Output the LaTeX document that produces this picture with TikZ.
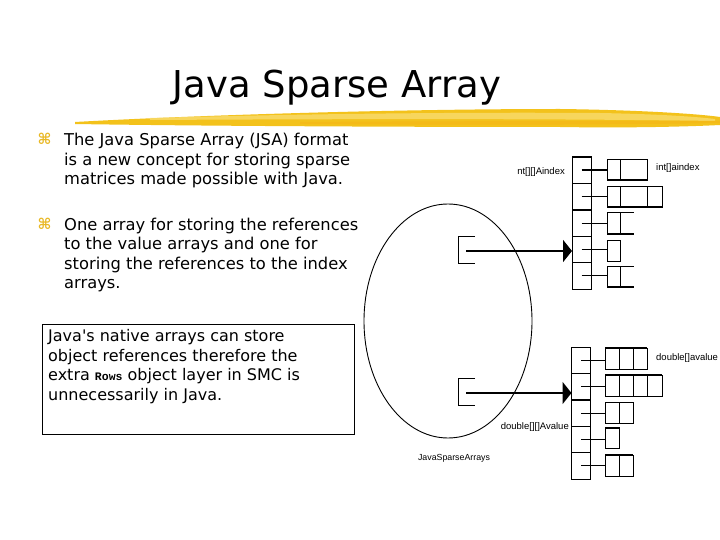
\documentclass[tikz,border=0pt]{standalone}
\usepackage{fontspec}
\setmainfont{DejaVu Sans}
\newfontfamily\aposfont{DejaVu Sans}
\newfontfamily\lblfont{Liberation Sans}
\newfontfamily\codefont{Liberation Mono}
\usetikzlibrary{arrows.meta,shapes.geometric,calc}
\definecolor{brush}{HTML}{F3C21B}
\definecolor{brushlight}{HTML}{F9DC6E}
\definecolor{bulletc}{HTML}{E9B824}
\begin{document}
\begin{tikzpicture}[x=1pt,y=-1pt,
  col/.style={draw, line width=1pt, minimum width=19pt, minimum height=26.4pt, inner sep=0pt, outer sep=0pt},
  acell/.style={draw, line width=1pt, minimum height=21pt, inner sep=0pt, outer sep=0pt},
  stub/.style={line width=0.9pt},
  thickl/.style={line width=2pt},
  body/.style={anchor=base west, inner sep=0pt, font=\fontsize{16.3}{19.5}\selectfont},
  bul/.style={text=bulletc, inner sep=0pt, font=\bfseries\fontsize{15}{15}\selectfont},
  lbl/.style={inner sep=0pt, font=\lblfont\fontsize{9.5}{10}\selectfont},
  bracket/.style={line width=0.9pt},
  ref/.style={line width=2.2pt, -{Triangle[length=9pt,width=22pt]}}
]
\useasboundingbox (0,0) rectangle (720,540);
\fill[white] (0,0) rectangle (720,540);

% title
\node[anchor=base, inner sep=0pt, font=\fontsize{37}{40}\selectfont] (title) at (337,98) {Java Sparse Array};

% brush stroke
\fill[brush] (75,122) .. controls (200,115) and (400,109) .. (560,109)
  .. controls (640,110) and (700,114) .. (720,117) -- (720,125)
  .. controls (680,127) and (620,128) .. (560,127)
  .. controls (400,127) and (200,126) .. (75,124) -- cycle;
\fill[brushlight, opacity=0.8] (150,118) .. controls (300,114) and (450,112) .. (600,113)
  .. controls (650,114) and (690,116) .. (715,119) -- (715,121)
  .. controls (650,120) and (500,118) .. (150,120) -- cycle;
\fill[brush!80!orange, opacity=0.6] (300,122) .. controls (450,121) and (600,121) .. (720,121) -- (720,123)
  .. controls (600,125) and (450,125) .. (300,124) -- cycle;

% bullets
\node[bul] (b1) at (44.5,138.5) {⌘};
\node[body] (l11) at (64,146) {The Java Sparse Array (JSA) format};
\node[body] (l12) at (64,165.5) {is a new concept for storing sparse};
\node[body] (l13) at (64,185) {matrices made possible with Java.};
\node[bul] (b2) at (44.5,224) {⌘};
\node[body] (l21) at (64,230) {One array for storing the references};
\node[body] (l22) at (64,249.5) {to the value arrays and one for};
\node[body] (l23) at (64,269) {storing the references to the index};
\node[body] (l24) at (64,288) {arrays.};

% note box
\node[draw, line width=0.9pt, minimum width=312pt, minimum height=110pt, inner sep=0pt] (note) at (198,379) {};
\node[body, font=\fontsize{16}{19.5}\selectfont] (n1) at (48,341.5) {Java{\aposfont'}s native arrays can store};
\node[body, font=\fontsize{16}{19.5}\selectfont] (n2) at (48,361) {object references therefore the};
\node[body, font=\fontsize{16}{19.5}\selectfont] (n3) at (48,380.5) {extra {\codefont\bfseries\fontsize{11.5}{12}\selectfont Rows} object layer in SMC is};
\node[body, font=\fontsize{16}{19.5}\selectfont] (n4) at (48,400) {unnecessarily in Java.};

% ellipse
\node[draw, ellipse, line width=0.9pt, minimum width=168pt, minimum height=234pt, inner sep=0pt] (jsa) at (448,321) {};
\node[lbl, font=\lblfont\fontsize{8.8}{10}\selectfont] (jsalbl) at (454,458) {JavaSparseArrays};

% ---------- index column ----------
\node[col] (ic1) at (581.5,170.2) {};
\node[col] (ic2) at (581.5,196.6) {};
\node[col] (ic3) at (581.5,223) {};
\node[col] (ic4) at (581.5,249.4) {};
\node[col] (ic5) at (581.5,275.8) {};
\draw[thickl] (ic1.north west) -- (ic1.north east);
\draw[thickl] (ic3.north west) -- (ic3.north east);
\node[lbl, anchor=east] (ialbl) at (565,172) {nt[][]Aindex};

% index rows
\node[acell, minimum width=13pt] (ia1a) at (613.5,170) {};
\node[acell, minimum width=27pt] (ia1b) at (633.5,170) {};
\draw[thickl] (ia1a.south west) -- (ia1b.south east);
\node[acell, minimum width=13pt] (ia2a) at (613.5,197) {};
\node[acell, minimum width=27pt] (ia2b) at (633.5,197) {};
\node[acell, minimum width=15pt] (ia2c) at (654.5,197) {};
\draw[thickl] (ia2a.south west) -- (ia2c.south east);
\node[acell, minimum width=13pt] (ia3a) at (613.5,223) {};
\draw[line width=1pt] (ia3a.north east) -- ++(14,0);
\draw[thickl] (ia3a.south west) -- ($(ia3a.south east)+(14,0)$);
\node[acell, minimum width=13pt] (ia4a) at (613.5,250.5) {};
\node[acell, minimum width=13pt] (ia5a) at (613.5,276.5) {};
\draw[line width=1pt] (ia5a.north east) -- ++(14,0);
\draw[thickl] (ia5a.south west) -- ($(ia5a.south east)+(14,0)$);
\node[lbl, anchor=west] (ialbl2) at (656,168) {int[]aindex};

\draw[thickl] (ic1.center) -- (ic1.center -| ia1a.west);
\draw[stub] (ic2.center) -- (ic2.center -| ia2a.west);
\draw[stub] (ic3.center) -- (ic3.center -| ia3a.west);
\draw[stub] (ic4.center) -- (ic4.center -| ia4a.west);
\draw[stub] (ic5.center) -- (ic5.center -| ia5a.west);

% ---------- value column ----------
\node[col] (vc1) at (581,360.2) {};
\node[col] (vc2) at (581,386.6) {};
\node[col] (vc3) at (581,413) {};
\node[col] (vc4) at (581,439.4) {};
\node[col] (vc5) at (581,465.8) {};
\draw[thickl] (vc3.north west) -- (vc3.north east);
\node[lbl, anchor=east] (valbl) at (569,427) {double[][]Avalue};

\node[acell, minimum width=14pt] (va1a) at (612,358.5) {};
\node[acell, minimum width=14pt] (va1b) at (626,358.5) {};
\node[acell, minimum width=14pt] (va1c) at (640,358.5) {};
\draw[thickl] (va1a.north west) -- (va1c.north east);
\node[acell, minimum width=14pt] (va2a) at (612,385.5) {};
\node[acell, minimum width=14pt] (va2b) at (626,385.5) {};
\node[acell, minimum width=14pt] (va2c) at (640,385.5) {};
\node[acell, minimum width=15pt] (va2d) at (654.5,385.5) {};
\draw[thickl] (va2a.north west) -- (va2d.north east);
\node[acell, minimum width=14pt] (va3a) at (612,413) {};
\node[acell, minimum width=14pt] (va3b) at (626,413) {};
\node[acell, minimum width=14pt] (va4a) at (612,438) {};
\draw[thickl] (va4a.north west) -- (va4a.north east);
\node[acell, minimum width=14pt] (va5a) at (612,465.5) {};
\node[acell, minimum width=14pt] (va5b) at (626,465.5) {};
\draw[thickl] (va5a.north west) -- (va5b.north east);
\node[lbl, anchor=west] (valbl2) at (656,358) {double[]avalue};

\draw[stub] (vc1.center) -- (vc1.center -| va1a.west);
\draw[stub] (vc2.center) -- (vc2.center -| va2a.west);
\draw[stub] (vc3.center) -- (vc3.center -| va3a.west);
\draw[stub] (vc4.center) -- (vc4.center -| va4a.west);
\draw[stub] (vc5.center) -- (vc5.center -| va5a.west);

% brackets and references
\draw[bracket] (475,236) -- (458,236) -- (458,263) -- (475,263);
\coordinate (r1) at (466,251);
\draw[ref] (r1) -- (r1 -| ic4.west);
\draw[bracket] (475,378) -- (458,378) -- (458,405) -- (475,405);
\coordinate (r2) at (466,393);
\draw[ref] (r2) -- (r2 -| vc2.west);
\end{tikzpicture}
\end{document}
